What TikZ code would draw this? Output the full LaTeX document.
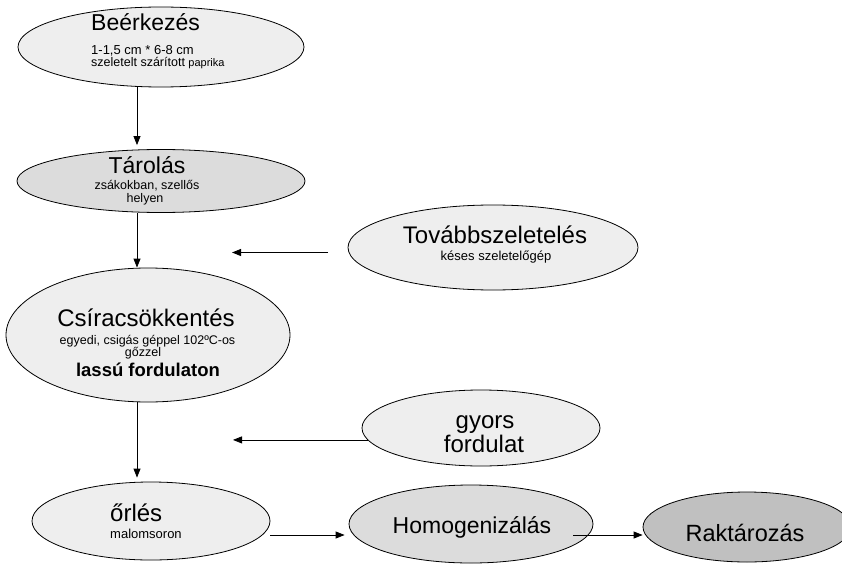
\documentclass[tikz,border=0pt]{standalone}
\usepackage{fontspec}
\setmainfont{Liberation Sans}
\usetikzlibrary{shapes.geometric,arrows.meta}
\definecolor{clight}{HTML}{EEEEEE}
\definecolor{cmid}{HTML}{DCDCDC}
\definecolor{cdark}{HTML}{C0C0C0}
\newcommand{\fsz}[1]{\fontsize{#1}{#1}\selectfont}
\begin{document}
\begin{tikzpicture}[x=1pt,y=-1pt,
  ell/.style={ellipse,draw=black,line width=0.8pt,inner sep=0pt},
  arr/.style={draw=black,line width=0.8pt,-{Triangle[length=9pt,width=7pt]}},
  big/.style={inner sep=0pt,font=\fsz{23}},
  small/.style={inner sep=0pt,font=\fsz{12.5}}]
\useasboundingbox (0,0) rectangle (842,564);
% ellipses
\node[ell,fill=clight,minimum width=286pt,minimum height=80pt] (b) at (161,47) {};
\node[ell,fill=cmid,minimum width=288pt,minimum height=63pt] (t) at (161,181) {};
\node[ell,fill=clight,minimum width=284pt,minimum height=134pt] (c) at (148,335) {};
\node[ell,fill=clight,minimum width=290pt,minimum height=85pt] (tv) at (493,247.5) {};
\node[ell,fill=clight,minimum width=238pt,minimum height=76pt] (gy) at (481,428) {};
\node[ell,fill=clight,minimum width=238pt,minimum height=78pt] (o) at (151,521) {};
\node[ell,fill=cmid,minimum width=244pt,minimum height=78pt] (h) at (471,524) {};
\node[ell,fill=cdark,minimum width=208pt,minimum height=70pt] (r) at (747,527) {};
% texts
\node[big,anchor=base west] (b1) at (91,30.7) {Beérkezés};
\node[small,font=\fsz{13},anchor=base west] (b2) at (91,54.5) {1-1,5 cm * 6-8 cm};
\node[small,anchor=base west] (b3) at (91,66.5) {szeletelt szárított {\fsz{11}paprika}};
\node[big,anchor=base] (t1) at (147,173) {Tárolás};
\node[small,anchor=base] (t2) at (147,189.5) {zsákokban, szellős};
\node[small,anchor=base] (t3) at (145,202) {helyen};
\node[big,font=\fsz{24},anchor=base] (c1) at (146,326.7) {Csíracsökkentés};
\node[small,anchor=base] (c2) at (147.5,344.5) {egyedi, csigás géppel 102ºC-os};
\node[small,anchor=base] (c3) at (143,356) {gőzzel};
\node[inner sep=0pt,font=\fsz{18.5}\bfseries,anchor=base] (c4) at (148,376.7) {lassú fordulaton};
\node[big,font=\fsz{24},anchor=base] (tv1) at (495,243) {Továbbszeletelés};
\node[small,font=\fsz{13},anchor=base] (tv2) at (496,260) {késes szeletelőgép};
\node[big,font=\fsz{24},anchor=base] (gy1) at (485,428) {gyors};
\node[big,font=\fsz{24},anchor=base] (gy2) at (484,452.7) {fordulat};
\node[big,font=\fsz{24},anchor=base west] (o1) at (110,521.7) {őrlés};
\node[small,font=\fsz{13},anchor=base west] (o2) at (110,538) {malomsoron};
\node[big,anchor=base] (h1) at (472,533) {Homogenizálás};
\node[big,font=\fsz{23.5},anchor=base] (r1) at (745,541.7) {Raktározás};
% helper coordinates
\coordinate (ax) at (137,0);
\coordinate (e1) at (232,252.5);
\coordinate (s1) at (328,252.5);
\coordinate (e2) at (233,0);
\coordinate (s3) at (270,535);
\coordinate (s4) at (573,535);
% connectors
\draw[arr,shorten >=4pt] (b.south -| ax) -- (t.north -| ax);
\draw[arr] (t.south -| ax) -- (c.north -| ax);
\draw[arr,shorten >=4pt] (c.south -| ax) -- (o.north -| ax);
\draw[arr] (s1) -- (e1);
\draw[arr] (gy.186.5) -- (gy.186.5 -| e2);
\draw[arr,shorten >=4pt] (s3) -- (h.west |- s3);
\draw[arr] (s4) -- (r.west |- s4);
\end{tikzpicture}
\end{document}
